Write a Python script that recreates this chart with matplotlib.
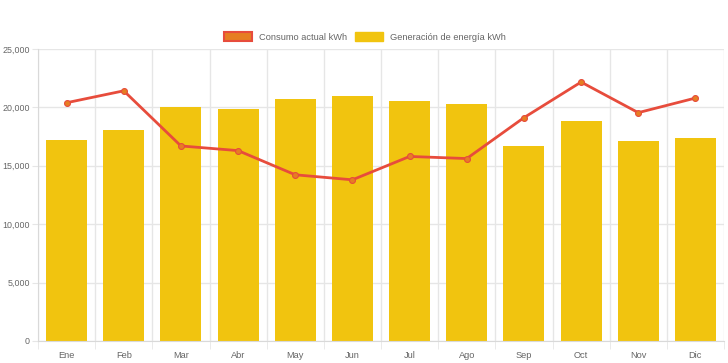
import numpy as np
import matplotlib.pyplot as plt
from matplotlib.patches import Patch
from matplotlib.ticker import FuncFormatter, MultipleLocator

months = ['Ene', 'Feb', 'Mar', 'Abr', 'May', 'Jun', 'Jul', 'Ago', 'Sep', 'Oct', 'Nov', 'Dic']
generacion = [17250, 18100, 20030, 19870, 20750, 21000, 20570, 20250, 16730, 18820, 17150, 17400]
consumo = [20400, 21420, 16700, 16300, 14230, 13800, 15800, 15620, 19120, 22170, 19550, 20800]

bar_color = '#F1C40F'
line_color = '#E74C3C'
point_color = '#E67E22'
grid_color = '#e6e6e6'
text_color = '#666666'
fs = 6.7

plt.rcParams['font.family'] = 'Liberation Sans'

fig = plt.figure(figsize=(7.28, 3.63), dpi=100)
ax = fig.add_axes([38/728, 22/363, 686/728, 292/363])

x = np.arange(len(months))
ax.bar(x, generacion, width=0.72, color=bar_color, zorder=2)
ax.plot(x, consumo, color=line_color, linewidth=2, zorder=3)
ax.scatter(x, consumo, s=18, color=point_color, edgecolor=line_color, linewidth=0.8, zorder=4)

ax.set_xlim(-0.5, len(months) - 0.5)
ax.set_ylim(0, 25000)
ax.yaxis.set_major_locator(MultipleLocator(5000))
ax.yaxis.set_major_formatter(FuncFormatter(lambda v, p: f'{int(v):,}'))
ax.set_xticks(x)
ax.set_xticklabels(months)
ax.set_xticks(np.arange(-0.5, len(months)), minor=True)

ax.grid(True, axis='y', color=grid_color, linewidth=1, zorder=0)
ax.grid(True, axis='x', which='minor', color=grid_color, linewidth=1, zorder=0)
ax.tick_params(axis='x', which='major', length=0, labelsize=fs, colors=text_color, pad=7)
ax.tick_params(axis='x', which='minor', length=6, color=grid_color)
ax.tick_params(axis='y', length=4, color=grid_color, labelsize=6.4, colors=text_color, pad=2)

for s in ['top', 'right']:
    ax.spines[s].set_visible(False)
for s in ['left', 'bottom']:
    ax.spines[s].set_color('#d9d9d9')

handles = [Patch(facecolor=point_color, edgecolor=line_color, linewidth=1.5, label='Consumo actual kWh'),
           Patch(facecolor=bar_color, edgecolor=bar_color, label='Generación de energía kWh')]
fig.legend(handles=handles, loc='center', bbox_to_anchor=(365/728, 1 - 37/363), ncol=2, frameon=False,
           fontsize=fs, labelcolor=text_color, handlelength=3.0, handleheight=1.0, handletextpad=0.7, columnspacing=0.9)

fig.savefig('out.png', dpi=100)
